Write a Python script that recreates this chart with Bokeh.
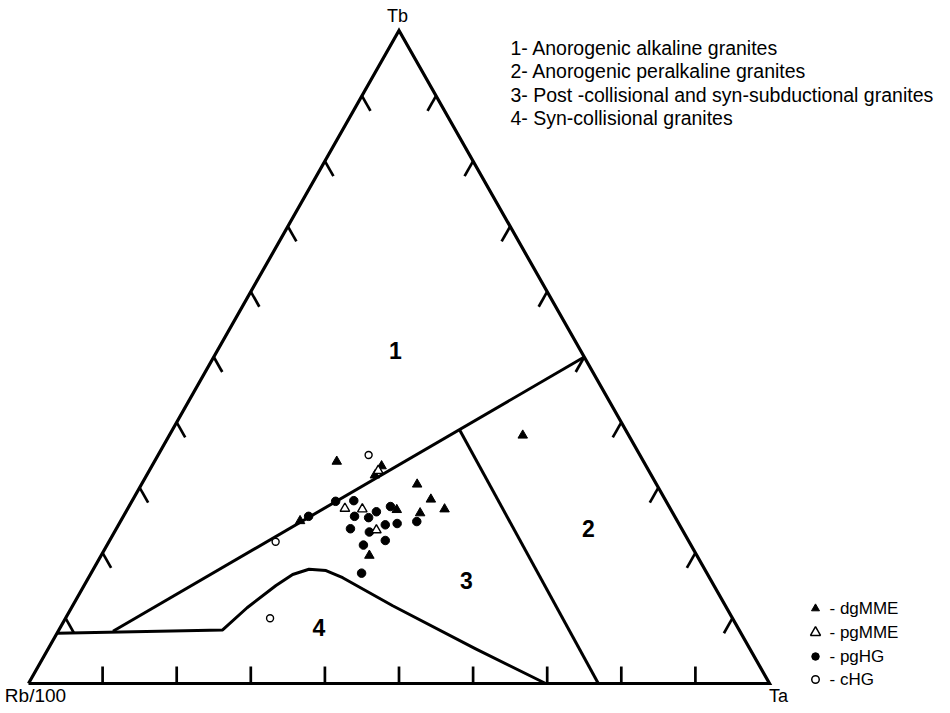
import numpy as np
from bokeh.plotting import figure
from bokeh.models import Range1d
from bokeh.core.properties import value
from bokeh.embed import file_html
from bokeh.resources import INLINE

# ---------------- data (percent; Rb/100 = 100 - Tb - Ta) ----------------
dg_Tb = [34.0, 33.3, 31.9, 30.5, 28.2, 26.7, 26.1, 26.6, 19.6, 24.9, 38.0]
dg_Ta = [24.6, 31.0, 30.8, 37.2, 40.2, 42.8, 39.8, 36.4, 36.2, 24.2, 47.7]

pgM_Tb = [32.6, 26.8, 26.7, 23.5]
pgM_Ta = [30.9, 29.3, 31.7, 35.2]

pgHG_Tb = [27.9, 25.6, 28.0, 25.6, 25.4, 26.3, 27.1, 24.3, 24.5, 24.8, 23.7, 23.2, 21.2, 21.9, 16.9]
pgHG_Ta = [27.5, 25.0, 29.9, 31.2, 33.2, 33.8, 35.3, 36.0, 37.5, 40.0, 31.6, 34.4, 34.6, 37.2, 36.5]

cHG_Tb = [35.0, 21.7, 10.0]
cHG_Ta = [28.4, 22.5, 27.6]

# field boundaries (Tb, Ta) in percent
main_Tb = [8.0, 50.0]
main_Ta = [7.4, 50.0]
div23_Tb = [38.9, 0.0]
div23_Ta = [38.7, 76.9]
f4_Tb = [7.7, 8.2, 11.6, 15.0, 16.7, 17.5, 17.3, 16.2, 11.9, 5.3, 0.0]
f4_Ta = [0.0, 22.1, 23.7, 25.9, 27.3, 29.1, 31.5, 34.3, 43.2, 57.7, 69.8]

tick_fracs = [10, 20, 30, 40, 50, 60, 70, 80, 90]

field_labels = ["1", "2", "3", "4"]
field_Tb = [51.0, 23.7, 15.8, 8.6]
field_Ta = [24.0, 63.7, 51.2, 34.9]

legend_top = ["1- Anorogenic alkaline granites",
              "2- Anorogenic peralkaline granites",
              "3- Post -collisional and syn-subductional granites",
              "4- Syn-collisional granites"]
legend_keys = ["- dgMME", "- pgMME", "- pgHG", "- cHG"]


def tern(tb, ta):
    tb = np.asarray(tb, float) / 100.0
    ta = np.asarray(ta, float) / 100.0
    return ta + 0.5 * tb, tb


# page-pixel helpers for free-standing annotations
def px(x):
    return (x - 36.0) / 741.0


def py(y):
    return (691.0 - y) / 653.0


W, H = 934, 705
p = figure(width=W, height=H,
           x_range=Range1d(px(8), px(8 + W)),
           y_range=Range1d(py(8 + H), py(8)),
           x_axis_type=None, y_axis_type=None,
           toolbar_location=None, output_backend="svg",
           min_border=0, outline_line_color=None)
p.background_fill_color = "white"
p.border_fill_color = "white"

FONT = value("Liberation Sans")

# triangle outline
tx, ty = tern([0, 0, 100, 0], [0, 100, 0, 0])
p.line(tx, ty, line_color="black", line_width=3.2, line_join="miter")

# ticks
t = np.array(tick_fracs, float)
d = 2.3
dy = 2.6
xs, ys = [], []
for k in t:
    x0, y0 = tern([0], [k])
    xs.append([x0[0], x0[0]])
    ys.append([y0[0], y0[0] + dy / 100.0])
for k in t:
    a, b = tern([k, k - d], [0, d])
    xs.append(list(a)); ys.append(list(b))
for k in t:
    a, b = tern([k, k - d], [100 - k, 100 - k])
    xs.append(list(a)); ys.append(list(b))
p.multi_line(xs, ys, line_color="black", line_width=2.7)

# field boundaries
for tb, ta in [(main_Tb, main_Ta), (div23_Tb, div23_Ta), (f4_Tb, f4_Ta)]:
    x, y = tern(tb, ta)
    p.line(x, y, line_color="black", line_width=3.0, line_join="round")

# data
x, y = tern(pgHG_Tb, pgHG_Ta)
p.scatter(x, y, marker="circle", size=8.5, fill_color="black", line_color="black")
x, y = tern(cHG_Tb, cHG_Ta)
p.scatter(x, y, marker="circle", size=7, fill_color="white", line_color="black", line_width=1.4)
x, y = tern(dg_Tb, dg_Ta)
p.scatter(x, y, marker="triangle", size=9.5, fill_color="black", line_color="black")
x, y = tern(pgM_Tb, pgM_Ta)
p.scatter(x, y, marker="triangle", size=9.5, fill_color="white", line_color="black", line_width=1.4)

# field numbers
x, y = tern(field_Tb, field_Ta)
p.text(x, y, text=field_labels, text_font=FONT, text_font_style="bold",
       text_font_size="23px", text_align="center", text_baseline="middle", text_color="black")

# apex labels
p.text([px(405)], [py(23)], text=["Tb"], text_font=FONT, text_font_size="18px",
       text_align="center", text_baseline="middle")
p.text([px(43)], [py(703)], text=["Rb/100"], text_font=FONT, text_font_size="19px",
       text_align="center", text_baseline="middle")
p.text([px(786)], [py(703)], text=["Ta"], text_font=FONT, text_font_size="18px",
       text_align="center", text_baseline="middle")

# field legend (top right)
ly = [55, 78.5, 102, 125.5]
p.text([px(518)] * 4, [py(v) for v in ly], text=legend_top, text_font=FONT,
       text_font_size="19.5px", text_align="left", text_baseline="middle")

# symbol legend (bottom right)
ky = [616, 640, 664, 687]
kx = px(823)
p.scatter([kx], [py(ky[0])], marker="triangle", size=8, fill_color="black", line_color="black")
p.scatter([kx], [py(ky[1])], marker="triangle", size=10, fill_color="white", line_color="black", line_width=1.5)
p.scatter([kx], [py(ky[2])], marker="circle", size=7.5, fill_color="black", line_color="black")
p.scatter([kx], [py(ky[3])], marker="circle", size=7.5, fill_color="white", line_color="black", line_width=1.5)
p.text([px(837)] * 4, [py(v) for v in ky], text=legend_keys, text_font=FONT,
       text_font_size="17px", text_align="left", text_baseline="middle")

open("out.html", "w").write(file_html(p, INLINE))
